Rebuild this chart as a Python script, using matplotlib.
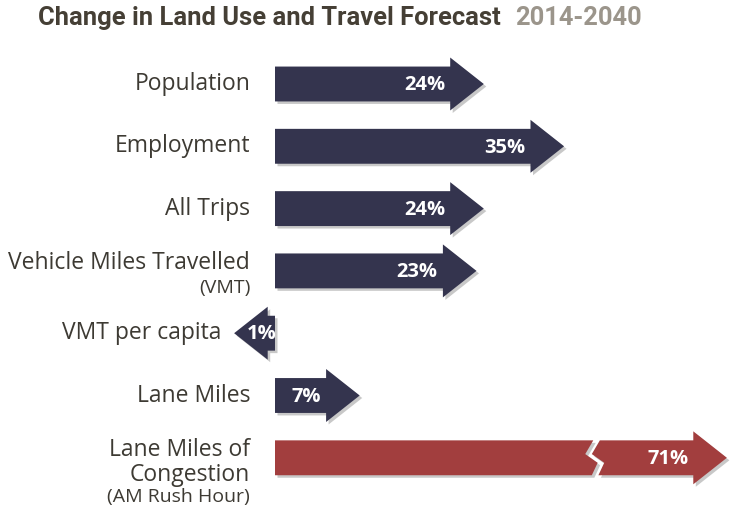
import matplotlib
matplotlib.use("Agg")
import matplotlib.pyplot as plt
from matplotlib.patches import Polygon
import matplotlib.patheffects as pe

categories = ["Population", "Employment", "All Trips", "Vehicle Miles Travelled",
              "VMT per capita", "Lane Miles", "Lane Miles of\nCongestion"]
sublabels = ["", "", "", "(VMT)", "", "", "(AM Rush Hour)"]
changes = [24, 35, 24, 23, -1, 7, 71]
pct_labels = ["24%", "35%", "24%", "23%", "1%", "7%", "71%"]
broken = [False, False, False, False, False, False, True]

NAVY = "#34344e"
RED = "#a23e3e"
TEXT = "#3d3a33"

# layout (pixel based, 730x513 canvas)
PX_PER_UNIT = 7.3
ZERO_PX = 275
ROW0_PX = 84
ROW_PX = 62.3
TIP = 4.6          # arrow head length in data units
BODY_H = 0.28      # half-height of arrow body in row units
HEAD_H = 0.425     # half-height of arrow head
BREAK_AT = 43.6    # where the long bar is cut
CUT = 13.7         # amount removed by the axis break
GAP = 0.9

plt.rcParams["font.family"] = ["Open Sans", "DejaVu Sans"]

fig = plt.figure(figsize=(7.3, 5.13), dpi=100)
ax = fig.add_axes([0, 0, 1, 1])
ax.set_xlim(-ZERO_PX / PX_PER_UNIT, (730 - ZERO_PX) / PX_PER_UNIT)
ax.set_ylim((513 - ROW0_PX) / ROW_PX, -ROW0_PX / ROW_PX)
ax.axis("off")

shadow = [pe.SimplePatchShadow(offset=(1.8, -1.8), shadow_rgbFace="#777777", alpha=0.4), pe.Normal()]


def arrow_pts(x0, x1, y, direction=1):
    # body from x0 to x1, head beyond x1
    return [(x0, y - BODY_H), (x1, y - BODY_H), (x1, y - HEAD_H),
            (x1 + direction * TIP, y), (x1, y + HEAD_H), (x1, y + BODY_H),
            (x0, y + BODY_H)]


def zig(x, y):
    # zigzag edge of the axis break, top to bottom
    return [(x, y - BODY_H), (x - 1.1, y - 0.06), (x + 0.6, y + 0.08), (x - 0.2, y + BODY_H)]


for i, (cat, sub, val, lab, brk) in enumerate(zip(categories, sublabels, changes, pct_labels, broken)):
    y = i
    color = RED if brk else NAVY
    if brk:
        end = val - CUT
        left = [(0, y - BODY_H)] + zig(BREAK_AT, y) + [(0, y + BODY_H)]
        right = zig(BREAK_AT + GAP, y)[::-1] + arrow_pts(BREAK_AT + GAP, end, y)[1:6]
        for pts in (left, right):
            ax.add_patch(Polygon(pts, closed=True, facecolor=color, edgecolor="none",
                                 path_effects=shadow))
    else:
        end = val
        d = 1 if val >= 0 else -1
        ax.add_patch(Polygon(arrow_pts(0, end, y, d), closed=True, facecolor=color,
                             edgecolor="none", path_effects=shadow))

    # value label inside the arrow
    tx = end - 0.7 if val > 0 else 0.2
    ax.text(tx, y + 0.02, lab, ha="right", va="center", color="white",
            fontsize=14.5, fontweight="bold")

    # category label
    lx = -3.4 if val > 0 else -7.3
    if sub and "\n" in cat:
        first, second = cat.split("\n")
        ax.text(lx, y - 0.13, first, ha="right", va="center", color=TEXT, fontsize=16.5, fontweight="medium")
        ax.text(lx, y + 0.27, second, ha="right", va="center", color=TEXT, fontsize=16.5, fontweight="medium")
        ax.text(lx, y + 0.63, sub, ha="right", va="center", color=TEXT, fontsize=14, fontweight="medium")
    elif sub:
        ax.text(lx, y - 0.13, cat, ha="right", va="center", color=TEXT, fontsize=16.5, fontweight="medium")
        ax.text(lx, y + 0.27, sub, ha="right", va="center", color=TEXT, fontsize=14, fontweight="medium")
    else:
        ax.text(lx, y, cat, ha="right", va="center", color=TEXT, fontsize=16.5, fontweight="medium")

t1 = fig.text(38 / 730, 1 - 18 / 513, "Change in Land Use and Travel Forecast", ha="left", va="center",
              fontsize=18.4, fontweight="bold", color="#453f35", family=["Roboto", "DejaVu Sans"])
fig.canvas.draw()
bb = t1.get_window_extent()
fig.text((bb.x1 + 14) / 730, 1 - 18 / 513, "2014-2040", ha="left", va="center",
         fontsize=18.4, fontweight="bold", color="#9b958b", family=["Roboto", "DejaVu Sans"])

fig.savefig("out.png", dpi=100, facecolor="white")
